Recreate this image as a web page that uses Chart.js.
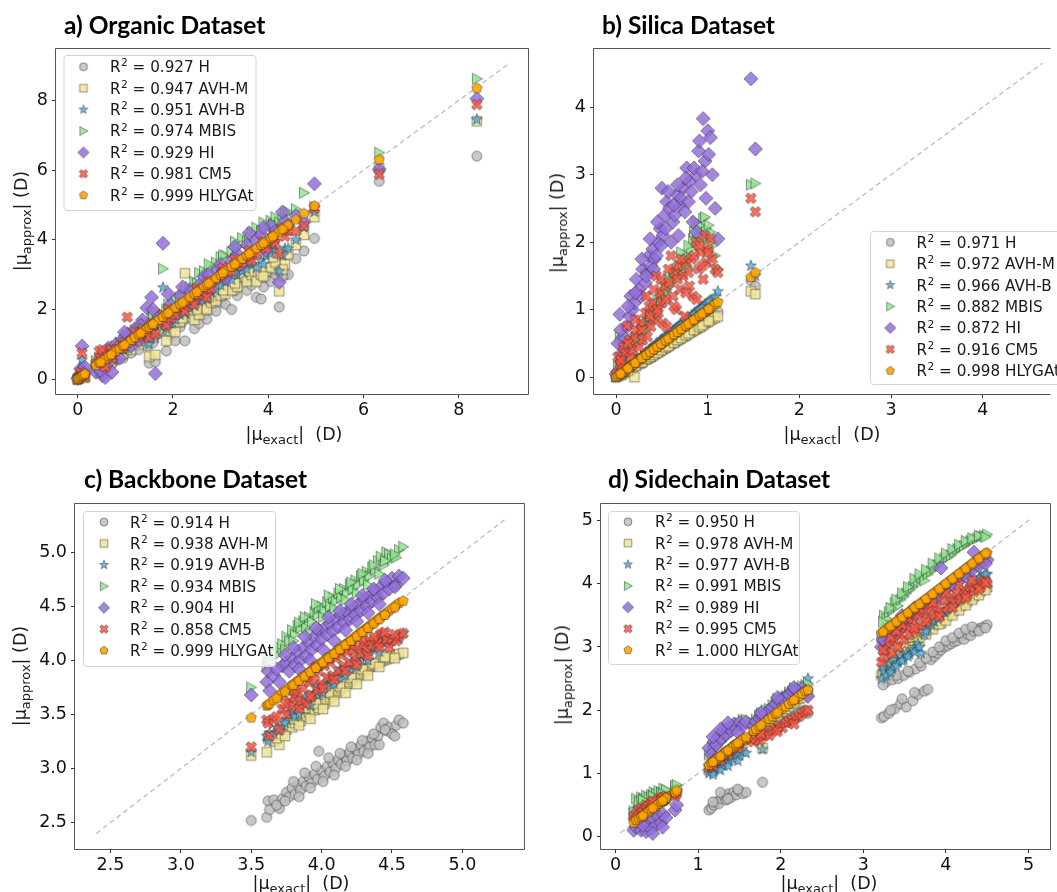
<!DOCTYPE html>
<html><head><meta charset="utf-8">
<script src="https://cdn.jsdelivr.net/npm/chart.js@4.4.0/dist/chart.umd.min.js"></script>
<style>
html,body{margin:0;padding:0;background:#fff;}
body{width:1057px;height:892px;overflow:hidden;position:relative;}
canvas{position:absolute;left:0;top:0;}
.title{position:absolute;font-family:Lato,'Open Sans',sans-serif;font-weight:bold;font-size:24.5px;line-height:28px;color:#000;white-space:nowrap;}
.xl,.yl{position:absolute;font-family:'DejaVu Sans',sans-serif;font-size:17.5px;line-height:20px;color:#1a1a1a;white-space:nowrap;}
.xl{transform:translateX(-50%);}
.yl{transform:translate(-50%,-50%) rotate(-90deg);}
.sub{font-size:13px;vertical-align:-4px;}
</style></head>
<body>
<canvas id="cA" width="1057" height="892"></canvas>
<canvas id="cB" width="1057" height="892"></canvas>
<canvas id="cC" width="1057" height="892"></canvas>
<canvas id="cD" width="1057" height="892"></canvas>

<div class="title" style="left:64px;top:11px">a) Organic Dataset</div>
<div class="title" style="left:602px;top:11px">b) Silica Dataset</div>
<div class="title" style="left:84px;top:465px">c) Backbone Dataset</div>
<div class="title" style="left:608px;top:465px">d) Sidechain Dataset</div>

<div class="xl" style="left:294px;top:424px">|μ<span class="sub">exact</span>|&nbsp;&nbsp;(D)</div>
<div class="xl" style="left:832px;top:424px">|μ<span class="sub">exact</span>|&nbsp;&nbsp;(D)</div>
<div class="xl" style="left:301px;top:873px">|μ<span class="sub">exact</span>|&nbsp;&nbsp;(D)</div>
<div class="xl" style="left:829px;top:873px">|μ<span class="sub">exact</span>|&nbsp;&nbsp;(D)</div>

<div class="yl" style="left:24px;top:221px">|μ<span class="sub">approx</span>| (D)</div>
<div class="yl" style="left:560px;top:223px">|μ<span class="sub">approx</span>| (D)</div>
<div class="yl" style="left:23px;top:676px">|μ<span class="sub">approx</span>| (D)</div>
<div class="yl" style="left:565px;top:675px">|μ<span class="sub">approx</span>| (D)</div>

<script>
// ---------------- data ----------------
const METHODS = ['H','AVH-M','AVH-B','MBIS','HI','CM5','HLYGAt'];
const r2Organic   = ['0.927','0.947','0.951','0.974','0.929','0.981','0.999'];
const r2Silica    = ['0.971','0.972','0.966','0.882','0.872','0.916','0.998'];
const r2Backbone  = ['0.914','0.938','0.919','0.934','0.904','0.858','0.999'];
const r2Sidechain = ['0.950','0.978','0.977','0.991','0.989','0.995','1.000'];

const ticksOrganic = [0,2,4,6,8];
const ticksSilica = [0,1,2,3,4];
const ticksBackbone = [2.5,3.0,3.5,4.0,4.5,5.0];
const ticksSidechain = [0,1,2,3,4,5];

const diagOrganic = [0, 9.08];
const diagSilica = [0, 4.65];
const diagBackbone = [2.4, 5.3];
const diagSidechain = [0.06, 5.03];

// Organic
const organicExact = [0.00,0.03,0.06,0.09,0.12,0.15,0.38,0.45,0.52,0.58,0.65,0.72,0.80,0.88,0.95,1.04,1.12,1.20,1.28,1.36,1.45,1.50,1.55,1.63,1.70,1.79,1.86,1.95,2.05,2.15,2.25,2.35,2.45,2.55,2.65,2.71,2.80,2.90,3.00,3.10,3.23,3.35,3.45,3.55,3.65,3.75,3.85,3.95,4.05,4.15,4.23,4.35,4.42,4.58,4.75,4.97,6.33,8.38, 0.48,0.70,0.98,1.32,1.58,1.90,2.20,2.50,2.75,3.05,3.30,3.60,3.90,4.10,4.30];
const organicH = [0.00,0.02,0.05,0.08,0.10,0.08,0.30,0.25,0.40,0.35,0.50,0.45,0.55,0.68,0.60,0.80,0.75,0.95,0.85,1.05,0.95,0.46,1.20,0.50,1.30,1.40,0.81,1.25,1.10,1.50,1.10,1.75,1.45,1.60,1.85,1.72,2.00,1.95,2.20,2.15,2.00,2.40,2.85,2.55,2.70,2.35,2.30,2.90,2.80,3.00,2.07,3.00,3.00,3.46,3.68,4.04,5.68,6.40, 0.20,0.52,0.82,1.10,1.05,1.50,1.65,1.85,2.25,2.40,2.55,2.95,2.65,3.15,2.95];
const organicAVHM = [0.00,0.03,0.10,0.12,0.15,0.05,0.35,0.30,0.45,0.40,0.55,0.55,0.62,0.75,0.72,0.88,0.85,1.05,1.00,1.15,1.10,0.65,1.30,0.70,1.45,1.55,1.10,1.40,1.35,1.65,3.04,1.90,1.70,1.85,2.05,2.00,2.20,2.25,2.40,2.45,2.55,2.65,2.95,2.80,3.00,2.80,3.00,3.10,3.20,3.35,2.52,3.30,3.58,3.85,4.14,4.65,6.05,7.40, 0.28,0.48,0.90,1.12,1.20,1.62,1.75,2.00,2.35,2.55,2.75,3.10,2.95,3.50,3.15];
const organicAVHB = [0.00,0.05,0.08,0.55,0.12,0.10,0.40,0.35,0.50,0.45,0.62,0.60,0.70,0.82,0.85,0.95,1.00,1.10,1.15,1.25,1.30,1.00,1.45,1.20,1.55,2.63,1.45,1.60,1.70,1.85,1.90,2.05,2.10,2.25,2.40,2.30,2.50,2.55,2.70,2.80,2.85,3.00,3.10,3.15,3.30,3.20,3.40,3.55,3.60,3.70,3.10,3.75,3.75,4.00,4.35,4.80,6.00,7.45, 0.42,0.62,0.92,1.22,1.40,1.75,1.95,2.30,2.60,2.90,3.05,3.35,3.30,3.85,3.55];
const organicMBIS = [0.00,0.04,0.12,0.20,0.30,0.18,0.52,0.60,0.70,0.55,0.80,0.75,0.95,1.05,1.10,1.25,1.20,1.40,1.35,1.55,1.60,1.45,1.75,1.65,1.90,3.17,2.00,2.05,2.30,2.35,2.55,2.65,2.80,3.05,3.10,2.90,3.20,3.35,3.50,3.55,3.65,3.80,4.05,3.95,4.20,4.35,4.25,4.40,4.55,4.65,4.50,4.75,4.80,4.88,5.35,4.95,6.50,8.62, 0.55,0.88,1.20,1.48,1.85,2.15,2.40,2.75,3.30,3.55,3.95,4.05,4.50,4.45,4.60];
const organicHI = [0.02,0.10,0.30,0.95,0.22,0.35,0.20,0.50,0.10,0.05,0.90,0.20,1.00,0.60,1.15,1.30,0.95,1.45,1.10,1.70,2.05,1.25,2.35,0.16,1.80,3.90,1.60,2.15,1.90,2.40,2.10,2.55,2.30,2.70,2.95,2.50,2.75,3.10,3.30,2.90,3.40,3.60,3.30,3.85,3.55,4.00,4.15,3.70,4.40,4.25,2.78,4.55,4.40,4.70,4.52,5.61,6.02,8.05, 0.25,0.55,1.35,1.55,2.00,2.45,2.65,2.45,3.00,3.10,3.80,4.20,4.35,3.95,4.80];
const organicCM5 = [0.00,0.06,0.20,0.75,0.10,0.05,0.45,0.80,0.85,0.35,0.70,0.60,0.85,0.95,0.90,1.78,1.10,1.35,1.20,1.45,1.40,1.20,1.60,1.30,1.65,1.85,1.55,1.75,1.85,2.05,1.95,2.25,2.15,2.40,2.55,2.35,2.60,2.85,2.95,3.05,3.10,3.25,3.35,3.50,3.40,3.60,3.80,3.75,3.95,3.90,3.60,4.10,4.25,4.25,4.40,4.90,5.88,7.88, 0.60,0.85,1.05,1.30,1.55,2.00,2.15,2.60,2.80,3.20,3.45,3.70,3.95,4.10,4.30];
const organicHLYGAt = [0.00,0.03,0.07,0.09,0.12,0.15,0.40,0.48,0.53,0.58,0.66,0.72,0.80,0.88,0.95,1.04,1.12,1.20,1.28,1.36,1.45,1.50,1.56,1.63,1.70,1.79,1.86,1.95,2.05,2.15,2.25,2.35,2.45,2.55,2.65,2.71,2.80,2.90,3.00,3.10,3.23,3.35,3.45,3.55,3.65,3.75,3.85,3.95,4.05,4.15,4.23,4.35,4.42,4.58,4.75,4.97,6.30,8.35, 0.48,0.70,0.98,1.32,1.58,1.90,2.20,2.50,2.75,3.05,3.30,3.60,3.90,4.10,4.30];

// Silica
const silicaExact = [0.00,0.02,0.04,0.06,0.08,0.10,0.12,0.15,0.16,0.18,0.20,0.22,0.25,0.27,0.29,0.32,0.34,0.36,0.38,0.40,0.42,0.44,0.46,0.48,0.50,0.51,0.53,0.55,0.58,0.60,0.62,0.64,0.66,0.68,0.70,0.73,0.75,0.77,0.80,0.82,0.84,0.87,0.88,0.90,0.92,0.95,0.97,0.98,1.00,1.03,1.05,1.08,1.11,1.47,1.52, 0.05,0.13,0.21,0.28,0.33,0.37,0.41,0.45,0.49,0.54,0.57,0.63,0.67,0.71,0.76,0.79,0.85,0.91,0.94,1.01];
const silicaH = [0.00,0.02,0.03,0.05,0.07,0.09,0.10,0.13,0.12,0.16,0.17,0.19,0.22,0.23,0.25,0.28,0.30,0.31,0.33,0.35,0.37,0.38,0.40,0.42,0.45,0.44,0.46,0.48,0.51,0.52,0.54,0.56,0.58,0.60,0.61,0.64,0.66,0.68,0.70,0.72,0.74,0.77,0.78,0.79,0.81,0.84,0.85,0.86,0.88,0.90,0.92,0.94,0.97,1.43,1.35, 0.04,0.11,0.18,0.24,0.29,0.32,0.36,0.39,0.43,0.47,0.50,0.55,0.59,0.62,0.67,0.69,0.75,0.80,0.83,0.89];
const silicaAVHM = [0.00,0.02,0.03,0.04,0.06,0.08,0.09,0.12,0.10,0.14,0.00,0.17,0.20,0.21,0.23,0.26,0.27,0.29,0.30,0.32,0.34,0.36,0.37,0.39,0.42,0.41,0.43,0.45,0.47,0.49,0.51,0.52,0.54,0.56,0.57,0.60,0.61,0.63,0.66,0.67,0.69,0.71,0.72,0.74,0.75,0.78,0.80,0.81,0.82,0.85,0.86,0.88,0.90,1.27,1.23, 0.04,0.10,0.17,0.22,0.27,0.30,0.33,0.36,0.40,0.44,0.46,0.51,0.55,0.58,0.62,0.65,0.70,0.74,0.77,0.83];
const silicaAVHB = [0.00,0.03,0.05,0.07,0.09,0.11,0.14,0.17,0.16,0.20,0.22,0.24,0.27,0.30,0.32,0.35,0.37,0.39,0.42,0.44,0.46,0.48,0.50,0.53,0.56,0.55,0.58,0.60,0.64,0.66,0.68,0.70,0.72,0.75,0.77,0.80,0.82,0.85,0.88,0.90,0.92,0.96,0.97,0.99,1.01,1.04,1.07,1.08,1.10,1.13,1.15,1.19,1.27,1.65,1.50, 0.06,0.15,0.23,0.31,0.36,0.41,0.45,0.49,0.54,0.59,0.62,0.69,0.73,0.78,0.83,0.87,0.93,1.00,1.03,1.12];
const silicaMBIS = [0.02,0.15,0.60,0.20,0.30,0.25,0.40,0.35,0.30,0.45,0.50,0.60,0.55,0.65,0.70,0.75,0.80,0.85,0.90,0.85,1.00,1.05,1.10,1.05,1.20,1.15,1.25,1.30,1.35,1.40,1.50,1.45,1.60,1.55,1.65,1.70,1.75,1.80,1.60,1.90,2.05,2.30,2.00,2.20,2.10,2.35,2.37,2.20,2.05,2.15,1.95,1.80,1.60,2.85,2.87, 0.25,0.45,0.55,0.80,0.70,0.95,0.90,1.15,1.10,1.30,1.45,1.55,1.50,1.85,1.65,1.95,2.15,2.25,2.05,2.25];
const silicaHI = [0.05,0.50,0.93,0.35,0.60,0.45,0.75,0.90,1.20,1.00,1.10,1.45,1.30,1.20,1.60,1.40,1.55,1.80,1.65,1.90,1.75,1.80,2.00,2.20,2.80,2.10,2.40,2.60,2.50,2.00,2.30,2.40,2.70,2.10,2.55,2.80,2.45,3.10,2.90,2.75,2.30,3.00,2.15,3.35,2.85,3.83,3.20,2.65,3.65,3.55,3.00,2.50,2.05,4.42,3.38, 0.70,1.05,1.25,1.75,1.50,2.05,1.60,2.30,1.95,2.20,2.75,2.55,2.85,2.65,2.95,2.60,3.10,3.50,3.05,3.30];
const silicaCM5 = [0.05,0.30,0.20,0.15,0.45,0.35,0.76,0.55,0.30,0.40,0.60,0.70,0.45,0.80,0.55,0.95,0.60,1.05,0.75,1.10,0.85,1.50,0.95,1.25,1.10,0.80,1.35,0.75,1.40,1.80,1.20,1.55,1.00,1.65,1.30,1.50,0.90,1.70,1.35,1.75,1.20,2.00,1.15,1.60,1.85,1.45,2.10,1.70,1.90,2.05,1.75,1.60,1.55,2.65,2.45, 0.25,0.50,0.85,0.70,1.20,0.90,1.30,1.00,1.45,1.15,1.60,1.05,1.45,1.75,1.25,1.55,1.80,1.95,1.65,1.85];
const silicaHLYGAt = [0.00,0.02,0.04,0.06,0.08,0.10,0.12,0.15,0.16,0.18,0.20,0.22,0.25,0.27,0.29,0.32,0.34,0.36,0.38,0.40,0.42,0.44,0.46,0.48,0.50,0.51,0.53,0.55,0.58,0.60,0.62,0.64,0.66,0.68,0.70,0.73,0.75,0.77,0.80,0.82,0.84,0.87,0.88,0.90,0.92,0.95,0.97,0.98,1.00,1.03,1.05,1.08,1.11,1.48,1.55, 0.05,0.13,0.21,0.28,0.33,0.37,0.41,0.45,0.49,0.54,0.57,0.63,0.67,0.71,0.76,0.79,0.85,0.91,0.94,1.01];

// Backbone
const backboneExact = [3.50,3.61,3.62,3.63,3.66,3.70,3.72,3.75,3.77,3.79,3.81,3.83,3.85,3.87,3.89,3.91,3.93,3.95,3.97,3.98,4.00,4.02,4.04,4.06,4.08,4.10,4.12,4.14,4.16,4.18,4.20,4.22,4.24,4.26,4.28,4.30,4.32,4.34,4.36,4.38,4.40,4.42,4.44,4.46,4.48,4.50,4.53,4.55,4.58, 3.68,3.74,3.80,3.84,3.88,3.92,3.96,4.01,4.05,4.09,4.13,4.17,4.21,4.25,4.29,4.33,4.37,4.41,4.45,4.52];
const backboneH = [2.52,2.55,2.70,2.62,2.71,2.63,2.72,2.78,2.74,2.82,2.76,2.85,2.80,2.88,2.84,2.92,2.87,2.95,2.90,3.16,2.98,2.93,3.02,2.97,3.05,3.00,3.08,3.04,3.12,3.07,3.15,3.10,3.18,3.13,3.22,3.16,3.25,3.20,3.28,3.22,3.30,3.38,3.42,3.35,3.38,3.32,3.40,3.45,3.42, 2.66,2.70,2.88,2.74,2.96,2.82,3.02,2.88,3.10,2.94,3.14,3.02,3.20,3.08,3.26,3.14,3.32,3.22,3.36,3.30];
const backboneAVHM = [3.12,3.15,3.28,3.30,3.25,3.22,3.32,3.36,3.40,3.38,3.42,3.45,3.44,3.50,3.48,3.52,3.55,3.54,3.58,3.56,3.62,3.60,3.64,3.66,3.68,3.70,3.72,3.74,3.76,3.78,3.80,3.82,3.84,3.86,3.88,3.90,3.92,3.94,3.95,3.96,3.98,3.99,4.00,4.01,4.02,4.04,4.05,4.06,4.07, 3.28,3.30,3.46,3.40,3.56,3.46,3.60,3.55,3.70,3.62,3.76,3.70,3.84,3.78,3.92,3.86,3.97,3.94,4.03,4.02];
const backboneAVHB = [3.15,3.30,3.25,3.33,3.32,3.35,3.40,3.45,3.50,3.52,3.48,3.56,3.58,3.60,3.64,3.62,3.66,3.70,3.68,3.74,3.72,3.78,3.76,3.82,3.80,3.86,3.84,3.90,3.88,3.94,3.92,3.98,3.96,4.02,4.00,4.06,4.04,4.08,4.10,4.12,4.14,4.18,4.20,4.16,4.15,4.18,4.22,4.20,4.25, 3.38,3.42,3.55,3.50,3.66,3.58,3.76,3.70,3.84,3.78,3.92,3.86,3.98,3.94,4.06,4.00,4.12,4.08,4.22,4.20];
const backboneMBIS = [3.75,3.95,4.02,3.98,4.08,4.12,4.15,4.22,4.18,4.28,4.24,4.32,4.30,4.36,4.30,4.40,4.36,4.45,4.42,4.48,4.50,4.46,4.54,4.50,4.58,4.55,4.62,4.58,4.66,4.62,4.70,4.66,4.74,4.70,4.78,4.74,4.82,4.78,4.86,4.84,4.92,4.96,4.88,5.00,4.98,4.94,4.95,5.02,5.05, 4.05,4.10,4.18,4.35,4.40,4.25,4.52,4.40,4.60,4.48,4.66,4.56,4.72,4.62,4.80,4.70,4.88,4.80,4.92,4.98];
const backboneHI = [3.68,3.80,3.90,3.72,3.86,3.80,3.95,3.98,3.90,4.02,3.96,4.08,4.00,4.12,4.04,4.16,4.10,4.22,4.14,4.28,4.20,4.30,4.24,4.34,4.27,4.38,4.31,4.42,4.35,4.45,4.38,4.48,4.42,4.52,4.46,4.56,4.50,4.60,4.55,4.64,4.58,4.68,4.62,4.72,4.66,4.76,4.70,4.78,4.76, 3.92,4.05,4.12,3.92,4.22,4.00,4.30,4.10,4.40,4.18,4.46,4.28,4.52,4.36,4.60,4.44,4.66,4.52,4.74,4.68];
const backboneCM5 = [3.20,3.45,3.42,3.30,3.45,3.36,3.55,3.50,3.62,3.58,3.66,3.70,3.62,3.74,3.60,3.80,3.68,3.82,3.72,3.90,3.78,3.95,3.84,3.98,3.86,4.02,3.90,4.05,3.95,4.08,3.98,4.10,4.02,4.12,4.06,4.15,4.10,4.18,4.14,4.20,4.16,4.24,4.25,4.19,4.12,4.20,4.18,4.22,4.25, 3.48,3.60,3.72,3.55,3.84,3.66,3.94,3.74,4.02,3.82,4.10,3.90,4.14,3.96,4.20,4.04,4.22,4.12,4.26,4.24];
const backboneHLYGAt = [3.47,3.58,3.59,3.60,3.63,3.68,3.70,3.73,3.75,3.77,3.79,3.81,3.83,3.85,3.87,3.89,3.91,3.93,3.95,3.96,3.98,4.00,4.02,4.04,4.06,4.08,4.10,4.12,4.14,4.16,4.18,4.20,4.22,4.24,4.26,4.28,4.30,4.32,4.34,4.36,4.38,4.40,4.42,4.44,4.46,4.48,4.51,4.53,4.55, 3.65,3.71,3.77,3.81,3.85,3.89,3.93,3.98,4.02,4.06,4.10,4.14,4.18,4.22,4.26,4.30,4.34,4.38,4.42,4.49];

// Sidechain
const sidechainExact = [0.22,0.25,0.28,0.31,0.34,0.37,0.40,0.43,0.46,0.49,0.52,0.55,0.58,0.61,0.72,0.74, 1.13,1.16,1.19,1.22,1.25,1.28,1.31,1.34,1.37,1.40,1.43,1.46,1.50,1.54,1.58, 1.67,1.70,1.74,1.78,1.82,1.86,1.90,1.94,1.98,2.02,2.06,2.10,2.14,2.18,2.22,2.26,2.30,2.33, 3.22,3.25,3.28,3.31,3.35,3.38,3.42,3.45,3.49,3.52,3.56,3.60,3.63,3.66,3.70,3.74,3.78,3.82,3.86,3.90,3.94,3.98,4.02,4.06,4.10,4.14,4.18,4.22,4.26,4.30,4.34,4.38,4.42,4.46,4.50, 3.24,3.33,3.40,3.47,3.54,3.62,3.68,3.76,3.84,3.92,4.00,4.08,4.16,4.24,4.32,4.40,4.48, 1.18,1.27,1.36,1.48,1.76,1.96,2.16, 0.33,0.45,0.57];
const sidechainH = [0.28,0.30,0.33,0.35,0.38,0.40,0.42,0.45,0.47,0.50,0.52,0.55,0.57,0.58,0.68,0.70, 0.42,0.45,0.50,0.55,0.52,0.60,0.65,0.58,0.68,0.62,0.70,0.66,0.72,0.68,0.70, 1.55,1.58,1.60,0.86,1.65,1.68,1.72,1.75,1.78,1.80,1.84,1.86,1.90,1.92,1.95,1.98,2.00,1.95, 1.88,1.90,2.45,1.95,2.48,2.02,2.50,2.10,2.55,2.05,2.60,2.15,2.65,2.25,2.70,2.30,2.33,2.80,2.85,2.90,2.95,3.00,3.02,3.05,3.08,3.10,3.15,3.12,3.20,3.18,3.25,3.28,3.30,3.32,3.35, 2.40,2.00,2.55,2.18,2.62,2.28,2.75,2.82,2.92,3.00,3.10,3.15,3.22,3.28,3.32,3.25,3.30, 0.55,0.70,0.60,0.75,1.62,1.70,1.85, 0.36,0.46,0.55];
const sidechainAVHM = [0.35,0.30,0.38,0.36,0.42,0.45,0.44,0.48,0.50,0.52,0.55,0.58,0.60,0.62,0.72,0.74, 1.05,1.10,1.12,1.15,1.20,1.22,1.25,1.28,1.32,1.35,1.38,1.42,1.45,1.48,1.55, 1.60,1.68,1.70,1.40,1.78,1.82,1.86,1.90,1.95,1.98,2.02,2.06,2.10,2.14,2.18,2.20,2.25,2.28, 2.55,2.60,2.62,2.70,2.75,2.80,2.85,2.90,2.95,3.00,3.05,3.05,3.10,3.15,3.20,3.25,3.28,3.30,3.35,3.40,3.38,3.45,3.50,3.55,3.58,3.62,3.65,3.70,3.72,3.78,3.80,3.85,3.88,3.92,3.95, 2.58,2.68,2.78,2.85,2.92,3.00,3.08,3.20,3.28,3.36,3.42,3.50,3.58,3.66,3.75,3.82,3.90, 1.08,1.18,1.30,1.40,1.75,1.92,2.12, 0.40,0.50,0.58];
const sidechainAVHB = [0.42,0.30,0.36,0.33,0.40,0.42,0.45,0.46,0.50,0.52,0.54,0.56,0.60,0.60,0.70,0.72, 1.00,1.05,1.02,1.10,1.08,1.15,1.12,1.20,1.18,1.25,1.22,1.30,1.28,1.34,1.32, 1.70,1.75,1.80,1.38,1.88,1.92,1.95,2.00,2.05,2.10,2.14,2.18,2.22,2.26,2.30,2.35,2.40,2.50, 2.50,2.62,2.55,2.72,2.65,2.80,2.75,2.85,2.80,2.90,2.88,2.95,3.00,3.05,2.90,3.20,3.30,3.35,3.40,3.45,3.50,3.55,3.60,3.65,3.70,3.75,3.80,3.85,3.90,3.95,4.00,4.05,4.10,4.12,4.15, 2.68,2.60,2.70,2.78,2.85,2.92,3.00,3.25,3.42,3.50,3.58,3.66,3.78,3.88,3.98,4.08,4.15, 0.98,1.05,1.12,1.20,1.85,2.02,2.24, 0.38,0.48,0.57];
const sidechainMBIS = [0.40,0.60,0.55,0.62,0.60,0.65,0.62,0.66,0.70,0.68,0.72,0.70,0.76,0.74,0.80,0.82, 1.30,1.35,1.40,1.42,1.48,1.50,1.55,1.58,1.62,1.65,1.68,1.75,1.80,1.85,1.85, 1.80,1.85,1.92,1.95,2.00,2.02,2.08,2.12,2.15,2.20,2.22,2.28,2.30,2.33,2.36,2.38,2.40,2.42, 3.15,3.50,3.45,3.55,3.60,3.70,3.65,3.75,3.80,3.85,3.90,3.95,4.00,4.05,4.10,4.05,4.15,4.20,4.25,4.30,4.35,4.40,4.42,4.45,4.50,4.55,4.58,4.60,4.65,4.68,4.70,4.72,4.75,4.76,4.78, 3.40,3.62,3.75,3.85,3.95,4.08,4.15,4.22,4.32,4.40,4.48,4.55,4.62,4.68,4.72,4.76,4.74, 1.38,1.50,1.62,1.72,1.95,2.18,2.35, 0.58,0.64,0.68];
const sidechainHI = [0.10,0.15,0.20,0.10,0.25,0.08,0.30,0.12,0.28,0.18,0.32,0.22,0.35,0.30,0.42,0.50, 1.40,1.30,1.50,1.45,1.60,1.55,1.70,1.62,1.72,1.68,1.78,1.72,1.80,1.75,1.82, 1.75,1.82,1.88,1.90,1.95,2.00,2.05,2.10,2.15,2.18,2.22,2.25,2.30,2.32,2.28,2.35,2.30,2.22, 3.00,3.10,3.05,3.20,3.25,3.18,3.35,3.30,3.45,3.40,3.50,3.55,3.52,3.60,3.65,3.70,3.75,3.70,3.80,3.85,4.25,3.90,3.95,4.00,4.05,4.10,4.12,4.20,4.15,4.25,4.50,4.30,4.35,4.40,4.38, 3.12,3.30,3.28,3.50,3.48,3.62,3.58,3.68,3.75,3.82,3.92,3.98,4.05,4.12,4.22,4.28,4.32, 1.58,1.70,1.80,1.65,1.96,2.20,2.36, 0.18,0.05,0.15];
const sidechainCM5 = [0.32,0.35,0.42,0.45,0.40,0.50,0.48,0.52,0.55,0.50,0.60,0.58,0.62,0.64,0.65,0.68, 1.10,1.15,1.18,1.22,1.25,1.26,1.30,1.33,1.36,1.38,1.42,1.45,1.48,1.52,1.55, 1.50,1.55,1.52,1.58,1.62,1.60,1.68,1.70,1.75,1.72,1.80,1.82,1.85,1.88,1.90,1.95,1.98,2.00, 2.76,2.85,2.95,3.05,2.90,3.10,3.00,3.20,3.12,3.30,3.20,3.40,3.25,3.50,3.35,3.55,3.45,3.60,3.50,3.65,3.55,3.75,3.62,3.80,3.70,3.85,3.75,3.90,3.82,3.95,3.88,4.00,3.95,4.05,4.00, 2.95,3.15,3.25,3.35,3.45,3.30,3.60,3.40,3.70,3.48,3.85,3.62,3.98,3.78,4.05,3.92,4.02, 1.12,1.20,1.30,1.40,1.62,1.66,1.78, 0.38,0.56,0.62];
const sidechainHLYGAt = [0.22,0.26,0.29,0.31,0.34,0.37,0.40,0.43,0.46,0.49,0.52,0.55,0.58,0.61,0.70,0.73, 1.13,1.16,1.19,1.22,1.25,1.28,1.31,1.34,1.37,1.40,1.43,1.46,1.50,1.54,1.57, 1.67,1.70,1.74,1.78,1.82,1.86,1.90,1.94,1.98,2.02,2.06,2.10,2.14,2.18,2.22,2.26,2.30,2.32, 3.22,3.25,3.28,3.31,3.35,3.38,3.42,3.45,3.49,3.52,3.56,3.60,3.63,3.66,3.70,3.74,3.78,3.82,3.86,3.90,3.94,3.98,4.02,4.06,4.10,4.14,4.18,4.22,4.26,4.30,4.34,4.38,4.42,4.46,4.49, 3.24,3.33,3.40,3.47,3.54,3.62,3.68,3.76,3.84,3.92,4.00,4.08,4.16,4.24,4.32,4.40,4.48, 1.18,1.27,1.36,1.48,1.76,1.96,2.16, 0.33,0.45,0.57];

// ---------------- styling ----------------
const SHAPES = ['circle','square','star','triR','diamond','xfill','pentagon'];
const FILLS = ['rgba(192,192,192,0.85)','rgba(240,228,150,0.85)','rgba(95,178,218,0.9)','rgba(144,232,144,0.85)','rgba(147,112,219,0.85)','rgba(248,88,68,0.85)','rgba(255,165,0,0.9)'];

function makeMarker(shape, fill, s) {
  const S = 20, c = document.createElement('canvas');
  c.width = S; c.height = S;
  const g = c.getContext('2d');
  g.translate(S/2, S/2); g.scale(s, s);
  g.beginPath();
  if (shape === 'circle') g.arc(0,0,5,0,Math.PI*2);
  else if (shape === 'square') g.rect(-4.8,-4.8,9.6,9.6);
  else if (shape === 'star') { for (let i=0;i<10;i++){const r=i%2?2.4:5.8;const a=-Math.PI/2+i*Math.PI/5;g.lineTo(r*Math.cos(a),r*Math.sin(a));} g.closePath(); }
  else if (shape === 'triR') { g.moveTo(5.5,0); g.lineTo(-4.5,-5.5); g.lineTo(-4.5,5.5); g.closePath(); }
  else if (shape === 'diamond') { g.moveTo(0,-7); g.lineTo(7,0); g.lineTo(0,7); g.lineTo(-7,0); g.closePath(); }
  else if (shape === 'xfill') { const L=5.6,W=1.9; const p=[[-W,-L],[W,-L],[W,-W],[L,-W],[L,W],[W,W],[W,L],[-W,L],[-W,W],[-L,W],[-L,-W],[-W,-W]]; g.rotate(Math.PI/4); p.forEach((q,i)=>i?g.lineTo(q[0],q[1]):g.moveTo(q[0],q[1])); g.closePath(); }
  else if (shape === 'pentagon') { for (let i=0;i<5;i++){const a=-Math.PI/2+i*2*Math.PI/5;g.lineTo(5.4*Math.cos(a),5.4*Math.sin(a));} g.closePath(); }
  g.fillStyle = fill; g.fill();
  g.lineWidth = 0.75 / s; g.strokeStyle = 'rgba(25,25,25,0.6)'; g.stroke();
  return c;
}
const plotMarkers = SHAPES.map((sh,i)=>makeMarker(sh, FILLS[i], 1));
const legendMarkers = SHAPES.map((sh,i)=>makeMarker(sh, FILLS[i], 0.8));

Chart.defaults.font.family = 'DejaVu Sans';

const framePlugin = {
  id: 'frameLegend',
  afterDraw(chart, args, o) {
    const ctx = chart.ctx, a = chart.chartArea;
    ctx.save();
    ctx.strokeStyle = '#555'; ctx.lineWidth = 1;
    const L = Math.round(a.left) - 0.5, T = Math.round(a.top) + 0.5, R = Math.round(a.right) - 0.5, B = Math.round(a.bottom) + 0.5;
    ctx.beginPath();
    ctx.moveTo(L, B); ctx.lineTo(L, T); ctx.lineTo(R, T);
    if (!o.noRight) ctx.lineTo(R, B); else ctx.moveTo(R, B);
    ctx.lineTo(L, B);
    ctx.stroke();
    // legend box
    const bx = o.box;
    ctx.beginPath();
    if (ctx.roundRect) ctx.roundRect(bx.x + 0.5, bx.y + 0.5, bx.w, bx.h, 3); else ctx.rect(bx.x + 0.5, bx.y + 0.5, bx.w, bx.h);
    ctx.fillStyle = 'rgba(255,255,255,0.82)'; ctx.fill();
    ctx.strokeStyle = '#d2d2d2'; ctx.stroke();
    ctx.fillStyle = '#1a1a1a'; ctx.textBaseline = 'alphabetic'; ctx.textAlign = 'left';
    const fs = 15.2, big = fs + 'px "DejaVu Sans"', small = (fs * 0.7).toFixed(1) + 'px "DejaVu Sans"';
    for (let i = 0; i < METHODS.length; i++) {
      const y = o.row0 + i * o.dy;
      const m = legendMarkers[i];
      ctx.drawImage(m, o.mx - m.width/2, y - m.height/2);
      const base = y + fs * 0.36;
      let x = o.tx;
      ctx.font = big; ctx.fillText('R', x, base); x += ctx.measureText('R').width + 0.5;
      ctx.font = small; ctx.fillText('2', x, base - fs * 0.38); x += ctx.measureText('2').width;
      ctx.font = big; ctx.fillText(' = ' + o.r2[i] + ' ' + METHODS[i], x, base);
    }
    ctx.restore();
  }
};

function axis(min, max, ticks, dec, isX) {
  return {
    type: 'linear', min, max,
    afterBuildTicks: s => { s.ticks = ticks.map(v => ({value: v})); },
    afterFit: s => { if (isX) s.height = 40; else s.width = 50; },
    grid: {display: true, drawOnChartArea: false, drawTicks: true, tickLength: 4, color: '#333', lineWidth: 1},
    border: {display: false},
    ticks: {color: '#111', font: {family: 'DejaVu Sans', size: 17.5}, padding: isX ? 2 : 4, maxRotation: 0, autoSkip: false,
            callback: v => dec ? Number(v).toFixed(dec) : String(v)}
  };
}

function buildDatasets(xs, ys, diag) {
  const ds = ys.map((arr, i) => ({
    label: METHODS[i],
    data: xs.map((x, j) => ({x: x, y: arr[j]})),
    pointStyle: plotMarkers[i], pointRadius: 5, pointHoverRadius: 5,
    showLine: false, order: 6 - i
  }));
  ds.push({type: 'line', label: 'y=x', data: diag.map(v => ({x: v, y: v})),
    borderColor: '#bcbcbc', borderWidth: 1.3, borderDash: [5, 3.5], pointRadius: 0, fill: false, order: 20});
  return ds;
}

function makeChart(id, xs, ys, diag, xr, yr, ticks, dec, pad, leg) {
  new Chart(document.getElementById(id).getContext('2d'), {
    type: 'scatter',
    data: {datasets: buildDatasets(xs, ys, diag)},
    options: {
      responsive: false, animation: false, devicePixelRatio: 1, events: [],
      layout: {padding: pad},
      plugins: {legend: {display: false}, tooltip: {enabled: false}, frameLegend: leg},
      scales: {x: axis(xr[0], xr[1], ticks, dec, true), y: axis(yr[0], yr[1], ticks, dec, false)}
    },
    plugins: [framePlugin]
  });
}

makeChart('cA', organicExact,
  [organicH, organicAVHM, organicAVHB, organicMBIS, organicHI, organicCM5, organicHLYGAt],
  diagOrganic, [-0.456, 9.475], [-0.425, 9.504], ticksOrganic, 0,
  {left: 6, top: 48, right: 528, bottom: 458},
  {box: {x: 63.5, y: 55, w: 192, h: 155}, mx: 83.5, tx: 110, row0: 66.8, dy: 21.4, r2: r2Organic});

makeChart('cB', silicaExact,
  [silicaH, silicaAVHM, silicaAVHB, silicaMBIS, silicaHI, silicaCM5, silicaHLYGAt],
  diagSilica, [-0.241, 4.745], [-0.25, 4.876], ticksSilica, 0,
  {left: 544, top: 48, right: 0, bottom: 458},
  {box: {x: 870, y: 231, w: 220, h: 153}, mx: 890.3, tx: 916.5, row0: 242.3, dy: 21.4, r2: r2Silica, noRight: true});

makeChart('cC', backboneExact,
  [backboneH, backboneAVHM, backboneAVHB, backboneMBIS, backboneHI, backboneCM5, backboneHLYGAt],
  diagBackbone, [2.248, 5.445], [2.256, 5.455], ticksBackbone, 1,
  {left: 25, top: 503, right: 532, bottom: 3},
  {box: {x: 83, y: 511, w: 192, h: 155}, mx: 104, tx: 130, row0: 522.1, dy: 21.4, r2: r2Backbone});

makeChart('cD', sidechainExact,
  [sidechainH, sidechainAVHM, sidechainAVHB, sidechainMBIS, sidechainHI, sidechainCM5, sidechainHLYGAt],
  diagSidechain, [-0.176, 5.273], [-0.196, 5.278], ticksSidechain, 0,
  {left: 551, top: 503, right: 1, bottom: 3},
  {box: {x: 608, y: 511, w: 191, h: 153}, mx: 628, tx: 655, row0: 521.7, dy: 21.4, r2: r2Sidechain});
</script>
</body></html>
